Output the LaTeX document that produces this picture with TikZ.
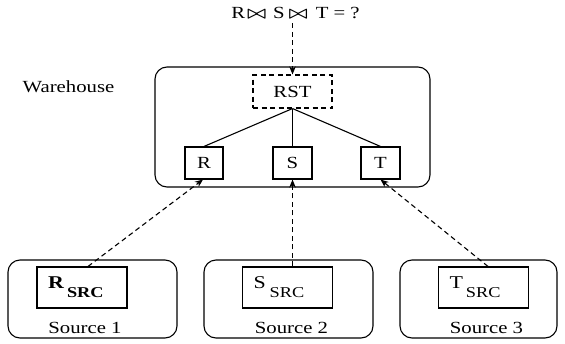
\documentclass[tikz,border=0pt]{standalone}
\usepackage{amsmath}
\usepackage{fontspec}
\usepackage{graphicx}
\setmainfont[FakeStretch=1.22]{Liberation Serif}
\usetikzlibrary{arrows.meta,calc}
\newcommand{\bt}{\scalebox{1.15}[1]{$\boldsymbol{\bowtie}$}}
\begin{document}
\begin{tikzpicture}[x=1pt,y=-1pt, line width=1.1pt,
  txt/.style={font=\fontsize{17}{20}\selectfont, inner sep=0pt},
  rbox/.style={draw, rounded corners=12pt, inner sep=0pt},
  sbox/.style={draw, inner sep=0pt, font=\fontsize{17}{20}\selectfont},
  srcbox/.style={draw, inner xsep=11pt, inner ysep=0pt, text width=68pt, align=left,
    minimum height=41pt, font=\fontsize{18}{20}\selectfont},
  flow/.style={dash pattern=on 5pt off 3.5pt, -{Stealth[length=8pt,width=6.5pt,inset=2.5pt]}}
]
\useasboundingbox (0,0) rectangle (565,343);

% title
\node[txt, anchor=base] (title) at (295.5,18) {R\hspace{2pt}\bt\hspace{7pt}S\hspace{4pt}\bt\hspace{8pt}T = ?};

% warehouse
\node[rbox, minimum width=275pt, minimum height=120pt] (wh) at (292.5,127) {};
\node[txt, anchor=base] (whl) at (68.5,92) {Warehouse};
\node[sbox, dash pattern=on 5pt off 3.5pt, minimum width=79pt, minimum height=33pt] (rst) at (292.5,91.5) {RST};
\node[sbox, minimum width=38pt, minimum height=32pt] (r) at (204,163) {R};
\node[sbox, minimum width=39pt, minimum height=32pt] (s) at (292.5,163) {S};
\node[sbox, minimum width=39pt, minimum height=32pt] (t) at (380.5,163) {T};

\draw (rst.south) -- (r.north);
\draw (rst.south) -- (s.north);
\draw (rst.south) -- (t.north);

% sources
\node[rbox, minimum width=169pt, minimum height=78pt] (src1) at (92.5,299) {};
\node[rbox, minimum width=169pt, minimum height=78pt] (src2) at (288.5,299) {};
\node[rbox, minimum width=157pt, minimum height=78pt] (src3) at (478.5,299) {};

\node[srcbox, minimum width=90pt] (rsrc) at (82,287.5) {\textbf{R}\,\raisebox{-9pt}{\fontsize{15}{16}\selectfont\textbf{SRC}}};
\node[srcbox, minimum width=89pt] (ssrc) at (287.5,287.5) {S\hspace{4pt}\raisebox{-9pt}{\fontsize{15}{16}\selectfont SRC}};
\node[srcbox, minimum width=89pt] (tsrc) at (483.5,287.5) {T\,\raisebox{-9pt}{\fontsize{15}{16}\selectfont SRC}};

\node[txt, anchor=base] (l1) at (85,333) {Source 1};
\node[txt, anchor=base] (l2) at (291.5,333) {Source 2};
\node[txt, anchor=base] (l3) at (486.5,333) {Source 3};

% arrows
\coordinate (tq) at ($(rst.north)+(0,-51)$);
\draw[flow] (tq) -- (rst.north);
\draw[flow] ([xshift=6pt]rsrc.north) -- ([xshift=-1pt]r.south);
\draw[flow] (s.south |- ssrc.north) -- (s.south);
\draw[flow] ([xshift=4.5pt]tsrc.north) -- (t.south);
\end{tikzpicture}
\end{document}
